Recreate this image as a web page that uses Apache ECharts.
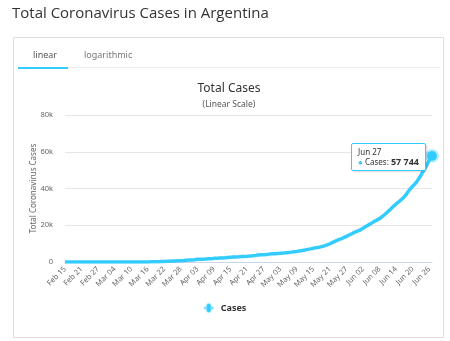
<!DOCTYPE html>
<html>
<head>
<meta charset="utf-8">
<script src="https://cdn.jsdelivr.net/npm/echarts@6/dist/echarts.min.js"></script>
<style>
html,body{margin:0;padding:0;background:#fff;}
#c{width:450px;height:341px;}
</style>
</head>
<body>
<div id="c"></div>
<script>
// Daily dates Feb 15 .. Jun 27 (2020)
const months = ['Feb','Mar','Apr','May','Jun'];
const monthStart = [15,1,1,1,1];
const monthEnd = [29,31,30,31,27];
const dates = [];
for (let m = 0; m < months.length; m++) {
  for (let d = monthStart[m]; d <= monthEnd[m]; d++) {
    dates.push(months[m] + ' ' + (d < 10 ? '0' + d : '' + d));
  }
}
// Total cases, estimated per day
const febCases = [0,0,0,0,0,0,0,0,0,0,0,0,0,0,0];
const marCases = [0,0,1,1,2,8,9,12,17,19,19,31,34,45,56,65,79,97,128,158,266,301,387,387,502,589,690,745,820,966,1054];
const aprCases = [1133,1265,1451,1451,1554,1628,1715,1795,1975,1975,2142,2208,2277,2443,2571,2669,2758,2839,2941,3031,3144,3288,3435,3607,3780,3892,4003,4127,4285,4428];
const mayCases = [4532,4681,4783,4887,5020,5208,5371,5611,5776,6034,6278,6563,6879,7134,7479,7805,8068,8371,8809,9283,9931,10649,11353,12076,12628,13228,13933,14702,15419,16214,16851];
const junCases = [17415,18319,19268,20197,21037,22020,22794,23620,24761,25987,27373,28764,30295,31577,32785,34159,35552,37510,39570,41204,42785,44931,47216,49851,52457,55343,57744];
const cases = [].concat(febCases, marCases, aprCases, mayCases, junCases);
const yTicks = [0, 20000, 40000, 60000, 80000];

const lineColor = '#33ccff';
const lastIdx = cases.length - 1;

const chart = echarts.init(document.getElementById('c'), null, {renderer: 'canvas'});
const font = 'Noto Sans';
chart.setOption({
  animation: false,
  backgroundColor: '#fff',
  textStyle: { fontFamily: font },
  title: [
    { text: 'Total Coronavirus Cases in Argentina', left: 12, top: 6, padding: 0,
      textStyle: { fontFamily: 'Open Sans', fontSize: 15, fontWeight: 'normal', color: '#333' } },
    { text: 'Total Cases', left: 229, top: 83, textAlign: 'center', padding: 0,
      textStyle: { fontFamily: font, fontSize: 12, fontWeight: 'normal', color: '#333' } },
    { text: '(Linear Scale)', left: 229, top: 100, textAlign: 'center', padding: 0,
      textStyle: { fontFamily: font, fontSize: 8.5, fontWeight: 'normal', color: '#555' } }
  ],
  graphic: [
    { type: 'rect', shape: { x: 13.5, y: 37.5, width: 430, height: 300 },
      style: { fill: 'none', stroke: '#dedede', lineWidth: 1 }, z: -1 },
    { type: 'line', shape: { x1: 18, y1: 67.5, x2: 440, y2: 67.5 },
      style: { stroke: '#eeeeee', lineWidth: 1 } },
    { type: 'line', shape: { x1: 18, y1: 68, x2: 68, y2: 68 },
      style: { stroke: '#33ccff', lineWidth: 2 } },
    { type: 'text', left: 33, top: 51,
      style: { text: 'linear', fontFamily: font, fontSize: 9, fill: '#555' } },
    { type: 'text', left: 84, top: 51,
      style: { text: 'logarithmic', fontFamily: font, fontSize: 9, fill: '#777' } }
  ],
  grid: { left: 65, right: 18, top: 115, bottom: 79, containLabel: false },
  legend: {
    data: ['Cases'], left: 'center', top: 298,
    itemWidth: 14, itemHeight: 8,
    icon: 'path://M0,3.2L4.5,3.2A3.5,3.5,0,1,1,9.5,3.2L14,3.2L14,4.8L9.5,4.8A3.5,3.5,0,1,1,4.5,4.8L0,4.8Z',
    textStyle: { fontFamily: font, fontSize: 9, color: '#333', fontWeight: 'bold' }
  },
  tooltip: {
    trigger: 'axis', alwaysShowContent: true, showContent: true,
    axisPointer: { type: 'none' },
    backgroundColor: 'rgba(255,255,255,0.95)', borderColor: '#33ccff', borderWidth: 1,
    padding: [3, 6], extraCssText: 'border-radius:2px;box-shadow:1px 1px 2px rgba(0,0,0,0.15);',
    position: function () { return [351, 143]; },
    formatter: function (ps) {
      const p = Array.isArray(ps) ? ps[0] : ps;
      return '<div style="font-family:Noto Sans;font-size:8px;color:#333;line-height:10px">' + p.name + '<br/>' +
        '<span style="color:#33ccff">\u25CF</span> Cases: <b style="font-size:9px">' +
        p.value.toLocaleString('en-US').replace(/,/g, ' ') + '</b></div>';
    }
  },
  xAxis: {
    type: 'category', data: dates, boundaryGap: false,
    axisLine: { lineStyle: { color: '#ccd6eb' } },
    axisTick: { show: false },
    axisLabel: { interval: 5, rotate: 45, fontSize: 7.5, color: '#666', margin: 6, fontFamily: font }
  },
  yAxis: {
    type: 'value', min: 0, max: 80000, interval: 20000,
    name: 'Total Coronavirus Cases', nameLocation: 'middle', nameGap: 27, nameRotate: 90,
    nameMoveOverlap: false,
    nameTextStyle: { fontSize: 8, color: '#666', fontFamily: font },
    axisLine: { show: false }, axisTick: { show: false },
    splitLine: { lineStyle: { color: '#e6e6e6' } },
    axisLabel: { fontSize: 7.5, color: '#666', margin: 12, fontFamily: font,
      formatter: v => v === 0 ? '0' : (v / 1000) + 'k' }
  },
  series: [{
    name: 'Cases', type: 'line', data: cases, showSymbol: true, symbol: 'circle',
    symbolSize: function (v, params) { return params.dataIndex === lastIdx ? 9 : 0; },
    lineStyle: { color: lineColor, width: 3.5 },
    itemStyle: { color: lineColor, borderColor: 'rgba(51,204,255,0.35)', borderWidth: 4 },
    emphasis: { disabled: true }
  }]
});
chart.dispatchAction({ type: 'showTip', seriesIndex: 0, dataIndex: lastIdx });
</script>
</body>
</html>
